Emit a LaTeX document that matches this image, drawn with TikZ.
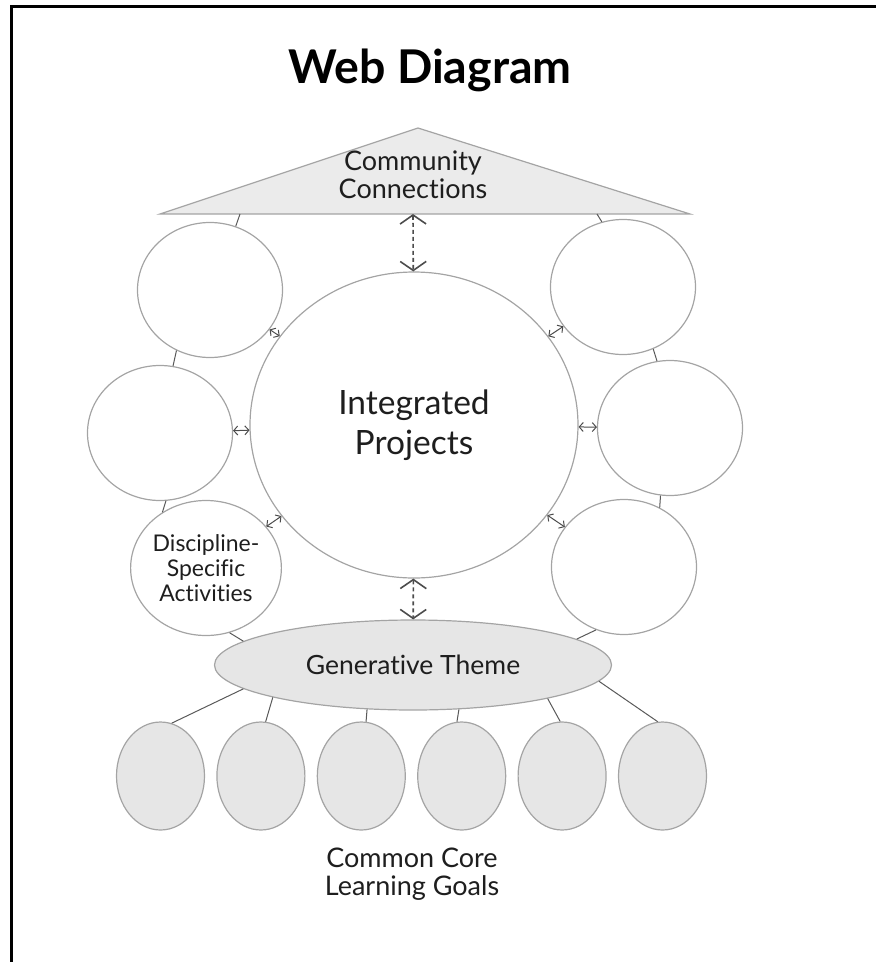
\documentclass[tikz,border=0pt]{standalone}
\usepackage{fontspec}
\setmainfont{Lato}[Ligatures=NoCommon]
\usetikzlibrary{arrows.meta, shapes.geometric}

\definecolor{edgegray}{HTML}{A4A4A4}
\definecolor{fillgray}{HTML}{E6E6E6}
\definecolor{inkgray}{HTML}{1E1E1E}

\begin{document}
\begin{tikzpicture}[
    x=1pt, y=-1pt,
    every node/.style={text=inkgray, align=center},
    bubble/.style={draw=edgegray, line width=1.2pt, ellipse, inner sep=0pt, minimum width=145pt, minimum height=135pt},
    goal/.style={bubble, fill=fillgray, minimum width=88pt, minimum height=108pt},
    link/.style={draw=black!65, line width=1pt},
    swap/.style={draw=black!70, line width=1pt, {Straight Barb[length=4pt,width=9pt]}-{Straight Barb[length=4pt,width=9pt]}},
    flow/.style={draw=black!70, line width=1.6pt, dash pattern=on 4pt off 3pt, {Straight Barb[length=9pt,width=26pt]}-{Straight Barb[length=9pt,width=26pt]}},
]
\useasboundingbox (0,0) rectangle (876,962);

% --- Frame ---
\draw[line width=3pt] (11,962) -- (11,6) -- (876,6);

% --- Title ---
\node[font=\bfseries\fontsize{46.5}{46}\selectfont, text=black] (title) at (430,70) {Web Diagram};

% --- Community connections ---
\draw[draw=edgegray, fill=fillgray!80, line width=1.2pt] (160,214) -- (418,128) -- (690,214) -- cycle;
\node[font=\fontsize{27}{28.5}\selectfont] (cc) at (413,175) {Community\\Connections};
\coordinate (ccl) at (240,214);
\coordinate (ccm) at (413,214);
\coordinate (ccr) at (597,214);

% --- Circles ---
\node[bubble, minimum width=328pt, minimum height=306pt, font=\fontsize{33.5}{40}\selectfont] (ip) at (414,425) {Integrated\\Projects};
\node[bubble] (lt) at (210,290) {};
\node[bubble] (lm) at (160,433) {};
\node[bubble, font=\fontsize{23}{25}\selectfont] (lb) at (206,568) {Discipline-\\Specific\\Activities};
\node[bubble] (rt) at (623,287) {};
\node[bubble] (rm) at (670,428) {};
\node[bubble] (rb) at (624,567) {};

% --- Generative theme ---
\node[bubble, fill=fillgray, minimum width=397pt, minimum height=90pt, font=\fontsize{26.5}{26}\selectfont] (gt) at (413,665) {Generative Theme};

% --- Learning goals ---
\foreach \i in {1,...,6}
  \node[goal] (g\i) at ({60.1+100.4*\i},776) {};
\node[font=\fontsize{27}{28.5}\selectfont] (clg) at (412,874) {Common Core\\Learning Goals};

% --- Links ---
\draw[link] (ccl) -- (lt.68);
\draw[link] (ccr) -- (rt.108);
\draw[link] (lt.241) -- (lm.79);
\draw[link] (lm.-85) -- (lb.128);
\draw[link] (lb.-70) -- (gt.172);
\draw[link] (rt.-64) -- (rm.101);
\draw[link] (rm.-98) -- (rb.59);
\draw[link] (rb.-114) -- (gt.9);
\foreach \i/\a/\b in {1/188/78, 2/193/85, 3/224/85, 4/-44/95, 5/-14/92, 6/-5/95}
  \draw[link] (gt.\a) -- (g\i.\b);

% --- Arrows ---
\draw[flow] (ccm) -- (ip);
\draw[flow] (ip) -- (gt);
\foreach \n in {lt, lm, lb, rt, rm, rb}
  \draw[swap] (ip) -- (\n);

\end{tikzpicture}
\end{document}
